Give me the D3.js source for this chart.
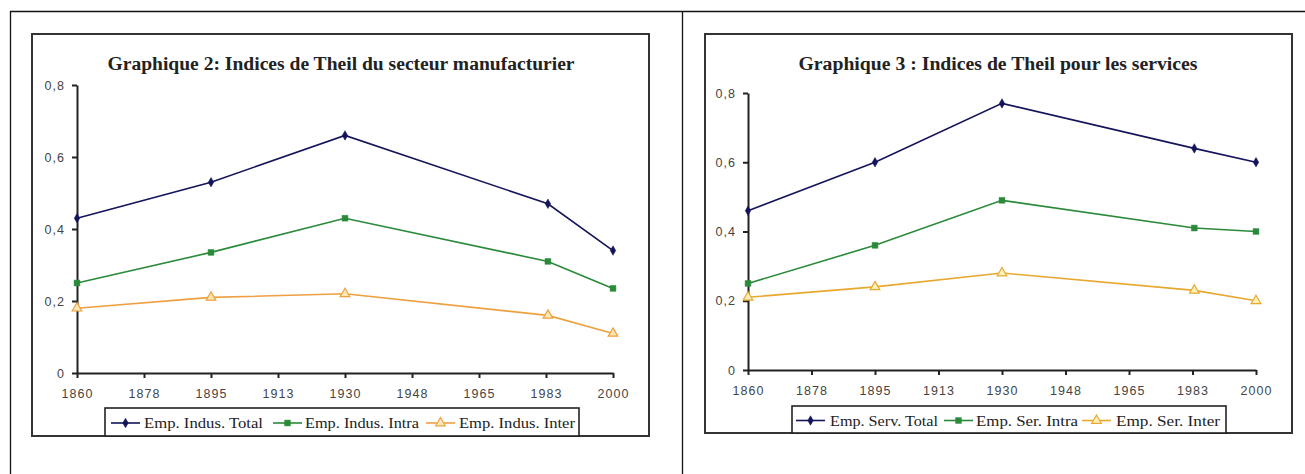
<!DOCTYPE html>
<html>
<head>
<meta charset="utf-8">
<script src="https://cdn.jsdelivr.net/npm/d3@7"></script>
<style>
  body { margin: 0; background: #fff; }
  svg { display: block; }
</style>
</head>
<body>
<div id="chart"></div>
<script>
// data
const years = [1860, 1895, 1930, 1983, 2000];
const tickYears = [1860, 1877.5, 1895, 1912.5, 1930, 1947.5, 1965, 1982.5, 2000];
const tickYearLabels = ["1860", "1878", "1895", "1913", "1930", "1948", "1965", "1983", "2000"];
const yTicks = [0, 0.2, 0.4, 0.6, 0.8];
const yTickLabels = ["0", "0,2", "0,4", "0,6", "0,8"];

const manufTitle = "Graphique 2: Indices de Theil du secteur manufacturier";
const manufNames = ["Emp. Indus. Total", "Emp. Indus. Intra", "Emp. Indus. Inter"];
const manufTotal = [0.43, 0.53, 0.66, 0.47, 0.34];
const manufIntra = [0.25, 0.335, 0.43, 0.31, 0.235];
const manufInter = [0.18, 0.21, 0.22, 0.16, 0.11];

const servTitle = "Graphique 3 : Indices de Theil pour les services";
const servNames = ["Emp. Serv. Total", "Emp. Ser. Intra", "Emp. Ser. Inter"];
const servTotal = [0.46, 0.60, 0.77, 0.64, 0.60];
const servIntra = [0.25, 0.36, 0.49, 0.41, 0.40];
const servInter = [0.21, 0.24, 0.28, 0.23, 0.20];

const W = 1305, H = 474;

const svg = d3.select("#chart").append("svg")
    .attr("width", W)
    .attr("height", H);

// outer table lines
svg.append("line").attr("x1", 10).attr("x2", W).attr("y1", 11.5).attr("y2", 11.5)
    .attr("stroke", "#111").attr("stroke-width", 1.3);
svg.append("line").attr("x1", 10.5).attr("x2", 10.5).attr("y1", 11).attr("y2", H)
    .attr("stroke", "#111").attr("stroke-width", 1.3);
svg.append("line").attr("x1", 682.5).attr("x2", 682.5).attr("y1", 11).attr("y2", H)
    .attr("stroke", "#111").attr("stroke-width", 1.3);

function drawChart(cfg) {
    const g = svg.append("g");

    // chart frame
    g.append("rect")
        .attr("x", cfg.box.x).attr("y", cfg.box.y)
        .attr("width", cfg.box.w).attr("height", cfg.box.h)
        .attr("fill", "#fff")
        .attr("stroke", "#333")
        .attr("stroke-width", 2);

    g.append("text")
        .attr("x", cfg.titleX)
        .attr("y", cfg.titleY)
        .attr("text-anchor", "middle")
        .attr("textLength", cfg.titleW)
        .attr("lengthAdjust", "spacingAndGlyphs")
        .style("font-family", "'Liberation Serif', 'Times New Roman', serif")
        .style("font-weight", "bold")
        .style("font-size", "18px")
        .style("fill", "#222")
        .text(cfg.title);

    const x = d3.scaleLinear().domain([1860, 2000]).range([cfg.plot.left, cfg.plot.right]);
    const y = d3.scaleLinear().domain([0, 0.8]).range([cfg.plot.bottom, cfg.plot.top]);

    const xAxis = g.append("g")
        .attr("transform", `translate(0,${cfg.plot.bottom})`)
        .call(d3.axisBottom(x)
            .tickValues(tickYears)
            .tickFormat((d, i) => tickYearLabels[i])
            .tickSize(5)
            .tickSizeOuter(0)
            .tickPadding(11));

    const yAxis = g.append("g")
        .attr("transform", `translate(${cfg.plot.left},0)`)
        .call(d3.axisLeft(y)
            .tickValues(yTicks)
            .tickFormat((d, i) => yTickLabels[i])
            .tickSize(5)
            .tickSizeOuter(0)
            .tickPadding(7));

    [xAxis, yAxis].forEach(ax => {
        ax.select(".domain").attr("stroke", "#222").attr("stroke-width", 2);
        ax.selectAll(".tick line").attr("stroke", "#222").attr("stroke-width", 2);
        ax.selectAll("text")
            .style("font-family", "'Liberation Sans', Arial, sans-serif")
            .style("font-size", "12.5px")
            .style("letter-spacing", "1px")
            .style("fill", "#444");
    });

    const line = d3.line()
        .x((d, i) => x(years[i]))
        .y(d => y(d));

    cfg.series.forEach(s => {
        g.append("path")
            .datum(s.values)
            .attr("d", line)
            .attr("fill", "none")
            .attr("stroke", s.color)
            .attr("stroke-width", 1.6);

        g.selectAll(null)
            .data(s.values)
            .join("path")
            .attr("transform", (d, i) => `translate(${x(years[i])},${y(d)})`)
            .attr("d", d3.symbol().type(s.symbol).size(s.size))
            .attr("fill", s.fill)
            .attr("stroke", s.color)
            .attr("stroke-width", s.hollow ? 1.2 : 0.5);
    });

    // legend
    const lg = g.append("g");
    lg.append("rect")
        .attr("x", cfg.legend.x).attr("y", cfg.legend.y)
        .attr("width", cfg.legend.w).attr("height", cfg.legend.h)
        .attr("fill", "#fff")
        .attr("stroke", "#222")
        .attr("stroke-width", 1.6);

    const ly = cfg.legend.y + cfg.legend.h / 2 + 1;
    cfg.series.forEach((s, i) => {
        const lx = cfg.legend.lineX[i];
        lg.append("line")
            .attr("x1", lx).attr("x2", lx + 29)
            .attr("y1", ly).attr("y2", ly)
            .attr("stroke", s.color)
            .attr("stroke-width", 1.6);
        lg.append("path")
            .attr("transform", `translate(${lx + 14.5},${ly})`)
            .attr("d", d3.symbol().type(s.symbol).size(s.size))
            .attr("fill", s.fill)
            .attr("stroke", s.color)
            .attr("stroke-width", s.hollow ? 1.2 : 0.5);
        lg.append("text")
            .attr("x", cfg.legend.textX[i])
            .attr("y", ly + 5)
            .attr("textLength", cfg.legend.textW[i])
            .attr("lengthAdjust", "spacingAndGlyphs")
            .style("font-family", "'Liberation Serif', 'Times New Roman', serif")
            .style("font-size", "14px")
            .style("fill", "#222")
            .text(s.name);
    });
}

drawChart({
    title: manufTitle,
    titleX: 341, titleY: 70, titleW: 467,
    box: { x: 32, y: 34, w: 617, h: 402 },
    plot: { left: 77, right: 613, top: 85, bottom: 373 },
    legend: {
        x: 105, y: 408, w: 474, h: 28,
        lineX: [111, 273, 426],
        textX: [144, 305, 459],
        textW: [119, 114, 116]
    },
    series: [
        { name: manufNames[0], values: manufTotal, color: "#14145a", fill: "#14145a", symbol: d3.symbolDiamond, size: 26 },
        { name: manufNames[1], values: manufIntra, color: "#2a8a3a", fill: "#2a8a3a", symbol: d3.symbolSquare, size: 34 },
        { name: manufNames[2], values: manufInter, color: "#eea040", fill: "#fde9b8", symbol: d3.symbolTriangle, size: 40, hollow: true }
    ]
});

drawChart({
    title: servTitle,
    titleX: 998, titleY: 70, titleW: 399,
    box: { x: 705, y: 34, w: 587, h: 399 },
    plot: { left: 748, right: 1256, top: 93, bottom: 370 },
    legend: {
        x: 792, y: 406, w: 434, h: 27,
        lineX: [796, 944, 1082],
        textX: [830, 976, 1116],
        textW: [108, 102, 104]
    },
    series: [
        { name: servNames[0], values: servTotal, color: "#14145a", fill: "#14145a", symbol: d3.symbolDiamond, size: 26 },
        { name: servNames[1], values: servIntra, color: "#2a8a3a", fill: "#2a8a3a", symbol: d3.symbolSquare, size: 34 },
        { name: servNames[2], values: servInter, color: "#e8a830", fill: "#fdf0b8", symbol: d3.symbolTriangle, size: 40, hollow: true }
    ]
});
</script>
</body>
</html>
